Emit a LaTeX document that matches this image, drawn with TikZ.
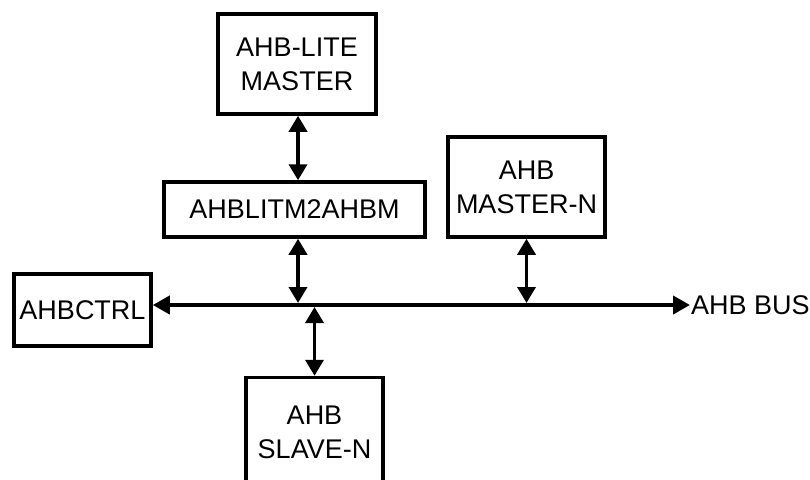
\documentclass[tikz,border=0pt]{standalone}
\usepackage{fontspec}
\setmainfont{Liberation Sans}
\usepackage{tikz}
\usetikzlibrary{arrows.meta, positioning}

\begin{document}
\begin{tikzpicture}[x=1pt, y=-1pt,
  blk/.style={draw, line width=3.5pt, align=center, inner sep=0pt,
    font=\fontsize{27}{34}\selectfont},
  link/.style={{Triangle[length=16pt,width=18pt]}-{Triangle[length=16pt,width=18pt]}, line width=3.5pt},
  busline/.style={{Triangle[length=17pt,width=18pt]}-{Triangle[length=17pt,width=18pt]}, line width=4pt}]

\useasboundingbox (0,0) rectangle (810,479);

\node[blk, minimum width=158pt, minimum height=100pt] (master) at (297,64) {AHB-LITE\\MASTER};
\node[blk, minimum width=261pt, minimum height=55pt] (bridge) at (294.5,209.5) {AHBLITM2AHBM};
\node[blk, minimum width=157pt, minimum height=100pt] (masterN) at (526.5,187) {AHB\\MASTER-N};
\node[blk, minimum width=137pt, minimum height=72pt] (ctrl) at (82.5,310) {AHBCTRL};
\node[blk, minimum width=137pt, minimum height=110pt] (slave) at (314.5,432.5) {AHB\\SLAVE-N};

\coordinate (busend) at (690,305);
\node[right=1pt of busend, font=\fontsize{27}{34}\selectfont, inner sep=0pt] (buslabel) {AHB BUS};

% bus and taps
\draw[busline] (ctrl.east |- busend) -- (busend);
\draw[link] (master.south -| 298,0) -- (bridge.north -| 298,0);
\draw[link] (bridge.south -| 298,0) -- (298,303);
\draw[link] (masterN.south) -- (masterN.south |- 0,303);
\draw[link] (slave.north) -- (slave.north |- 0,307);

\end{tikzpicture}
\end{document}
